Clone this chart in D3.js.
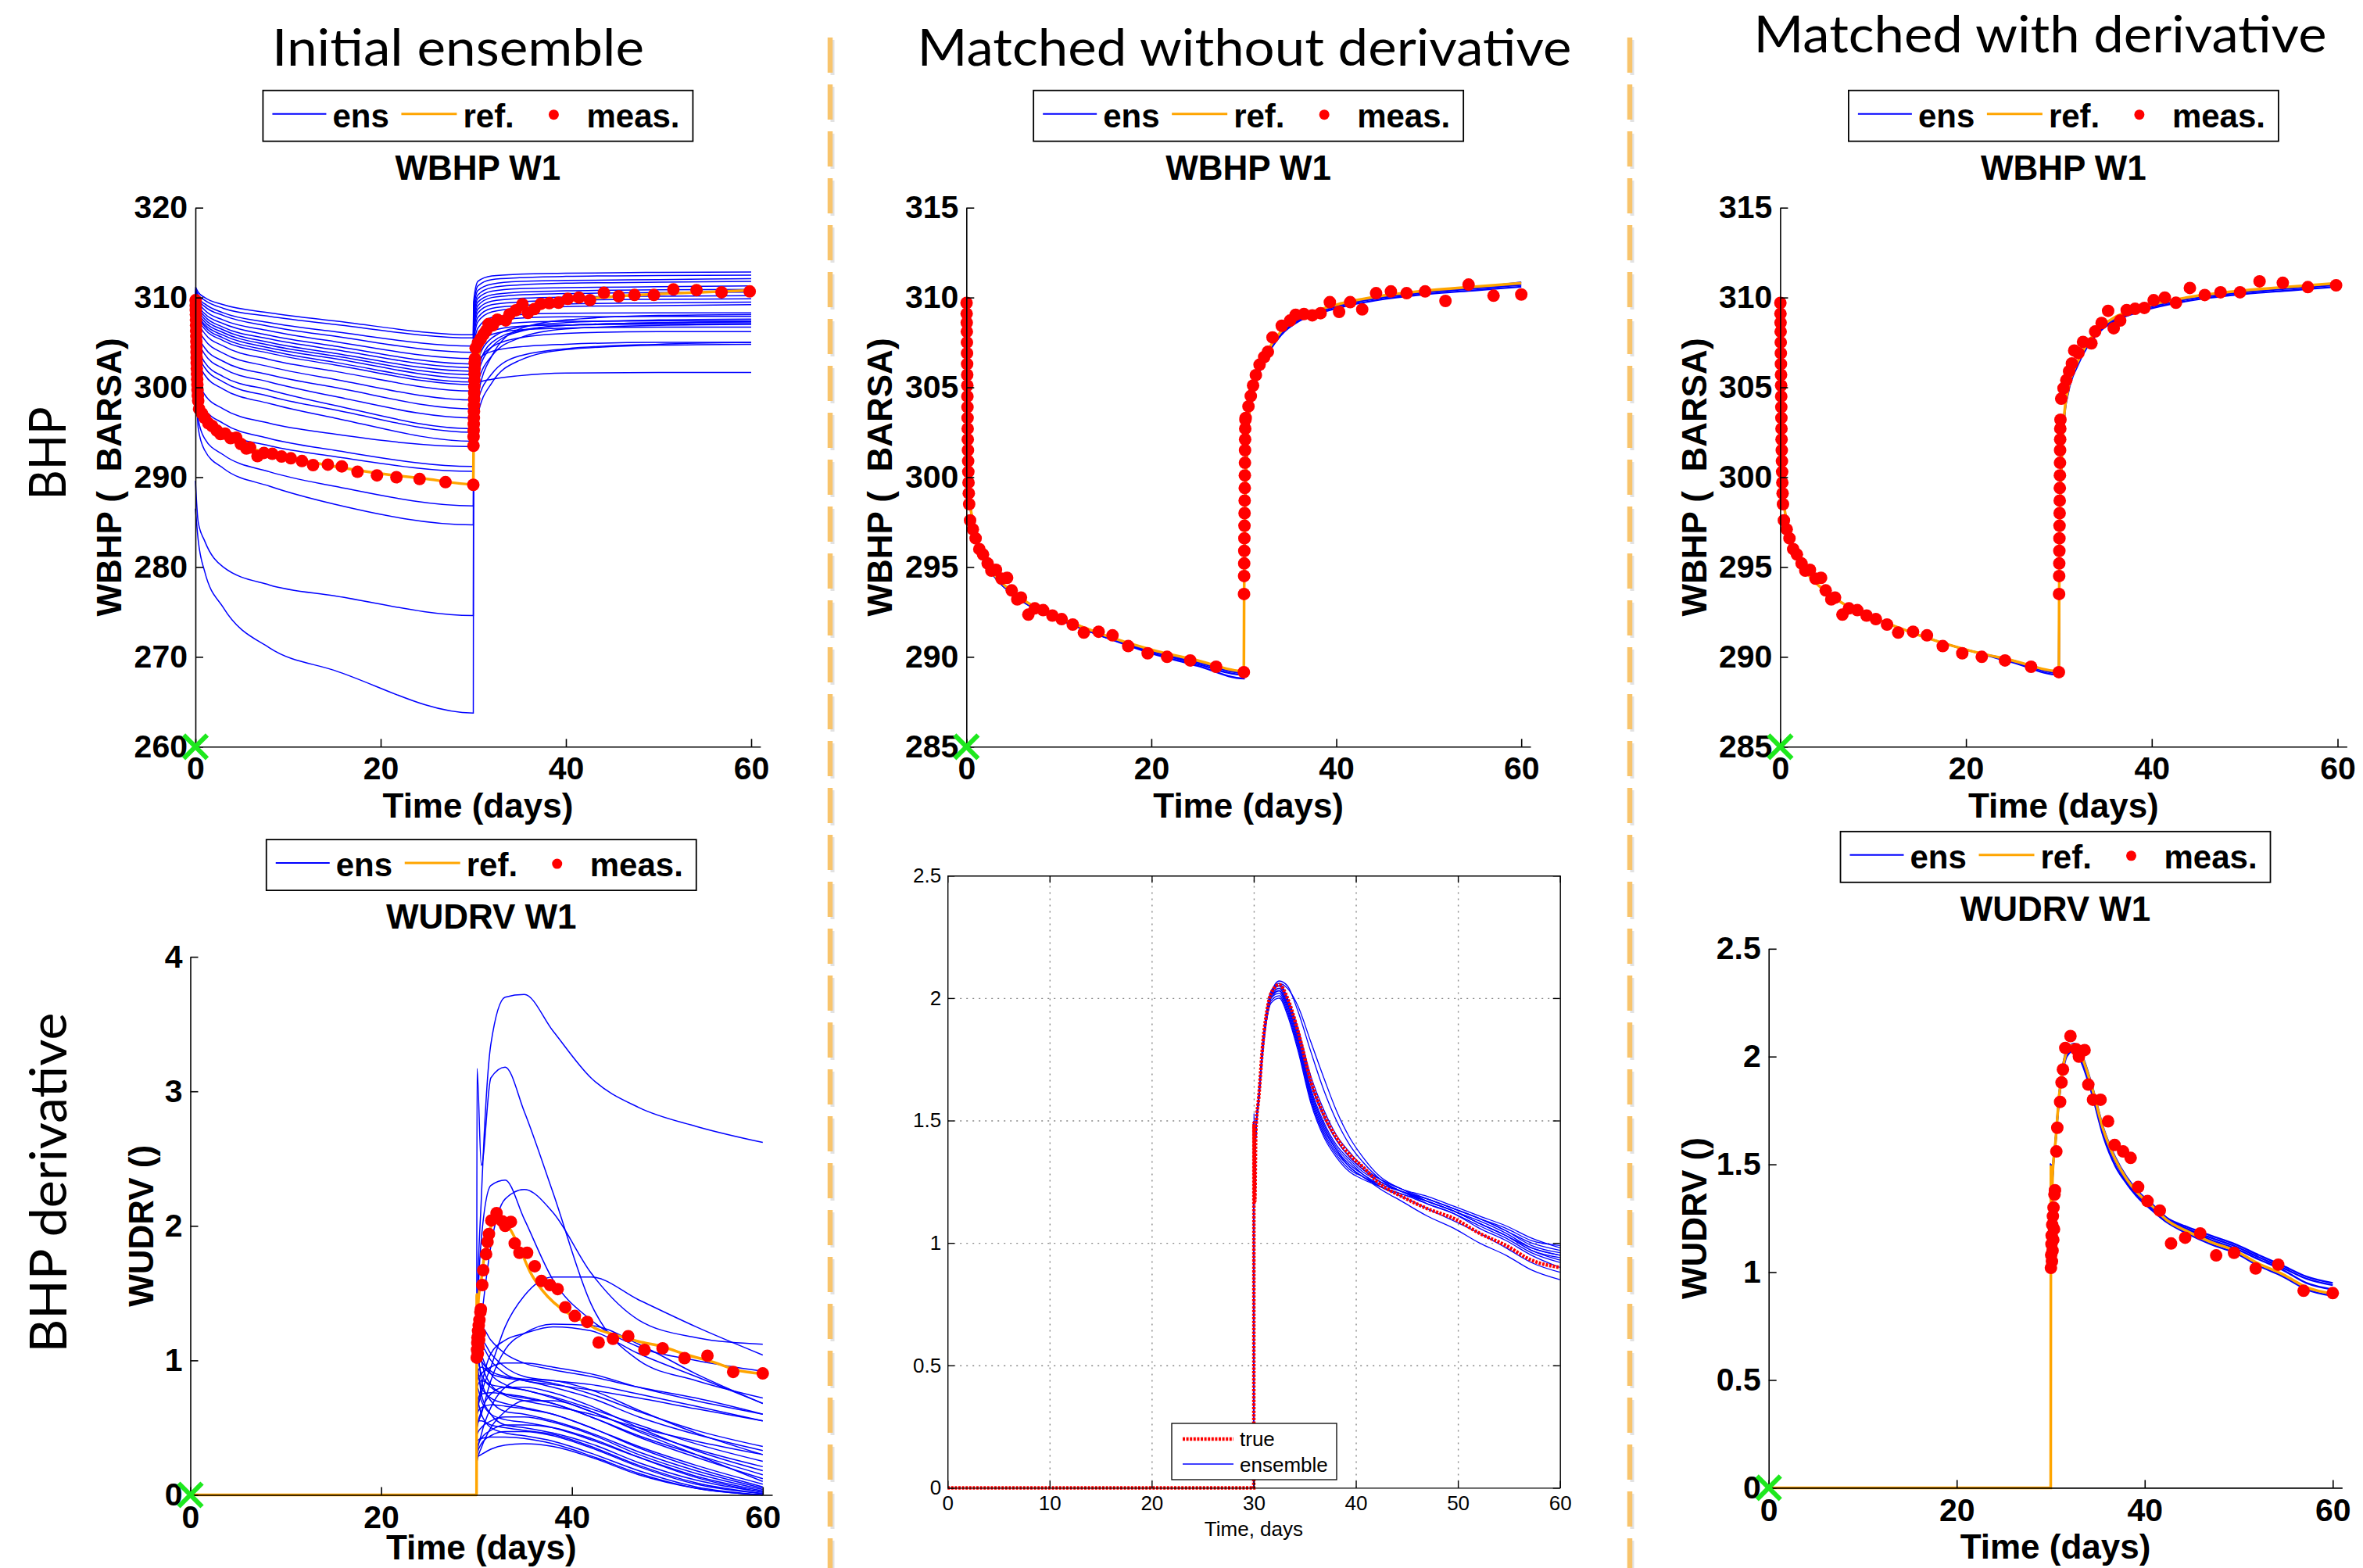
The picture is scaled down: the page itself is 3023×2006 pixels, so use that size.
<!DOCTYPE html>
<html>
<head>
<meta charset="utf-8">
<script src="https://cdn.jsdelivr.net/npm/d3@7"></script>
<style>
  body { margin: 0; background: #fff; }
  svg { display: block; }
</style>
</head>
<body>
<script>
// ---------- WBHP data ----------
const refBhpT = [0, 0.05, 0.15, 0.3, 0.6, 1, 2, 3, 5, 7, 10, 15, 20, 25, 30, 30.03, 30.1, 30.3, 30.6, 31, 32, 33, 34, 36, 38, 40, 45, 50, 55, 60];
const refBhp = [310, 306, 302, 299.2, 297.8, 296.8, 295.4, 294.6, 293.6, 292.9, 292.2, 291.2, 290.4, 289.8, 289.2, 293.5, 297.5, 301, 303.6, 304.9, 306.4, 307.4, 308.1, 308.9, 309.3, 309.6, 310.1, 310.4, 310.6, 310.8];

// initial ensemble, sampled at memberBhpT
const memberBhpT = [0, 0.3, 1, 3, 8, 15, 30, 30.03, 30.5, 32, 35, 40, 50, 60];
const initBhp = [
  [311.2, 310.6, 310.0, 309.2, 308.3, 307.4, 305.85, 309.5, 311.8, 312.4, 312.6, 312.7, 312.8, 312.85],
  [311.0, 310.3, 309.7, 308.8, 307.9, 307.0, 305.5, 309.0, 311.3, 312.0, 312.2, 312.35, 312.45, 312.5],
  [311.0, 310.0, 309.3, 308.3, 307.2, 306.2, 304.6, 308.5, 310.8, 311.5, 311.8, 311.9, 312.0, 312.1],
  [310.8, 309.8, 309.0, 308.0, 306.8, 305.7, 303.9, 308.0, 310.3, 311.1, 311.4, 311.6, 311.7, 311.8],
  [310.8, 309.5, 308.6, 307.5, 306.3, 305.1, 303.2, 307.6, 309.9, 310.7, 311.0, 311.1, 311.2, 311.3],
  [310.6, 309.2, 308.2, 307.1, 305.8, 304.6, 302.6, 307.2, 309.5, 310.3, 310.6, 310.75, 310.85, 310.9],
  [310.6, 309.0, 307.9, 306.7, 305.4, 304.2, 302.2, 306.8, 309.1, 310.0, 310.3, 310.45, 310.55, 310.6],
  [310.5, 308.8, 307.6, 306.4, 305.0, 303.8, 301.8, 306.3, 308.7, 309.6, 309.9, 310.05, 310.15, 310.2],
  [310.4, 308.5, 307.3, 306.1, 304.7, 303.5, 301.4, 305.8, 308.3, 309.2, 309.5, 309.7, 309.8, 309.85],
  [310.4, 308.2, 307.0, 305.8, 304.4, 303.2, 301.0, 305.3, 307.8, 308.8, 309.1, 309.3, 309.4, 309.5],
  [310.3, 308.0, 306.8, 305.5, 304.1, 302.8, 300.6, 304.8, 307.3, 308.4, 308.8, 309.0, 309.1, 309.2],
  [310.2, 307.8, 306.5, 305.2, 303.8, 302.5, 300.3, 304.2, 306.6, 307.8, 308.1, 308.25, 308.3, 308.3],
  [310.0, 307.4, 306.0, 304.6, 303.1, 301.8, 299.6, 303.6, 306.0, 307.3, 307.7, 307.85, 307.9, 307.9],
  [309.8, 306.8, 305.3, 303.8, 302.3, 300.9, 298.6, 303.0, 305.4, 306.8, 307.2, 307.35, 307.4, 307.4],
  [309.6, 306.0, 304.4, 302.9, 301.4, 300.0, 297.6, 302.4, 304.8, 306.3, 306.8, 306.95, 307.05, 307.1],
  [309.4, 305.4, 303.7, 302.1, 300.6, 299.0, 296.6, 302.0, 304.4, 305.9, 306.4, 306.6, 306.7, 306.7],
  [309.0, 304.6, 302.8, 301.2, 299.7, 298.0, 295.4, 301.0, 303.0, 304.0, 304.5, 304.8, 305.0, 305.0],
  [308.6, 304.0, 302.2, 300.6, 299.0, 297.5, 295.0, 299.5, 300.5, 300.9, 301.3, 301.6, 301.65, 301.65],
  [308.2, 303.2, 301.4, 299.8, 298.2, 296.6, 294.0, 299.5, 302.5, 304.5, 305.5, 306.0, 306.2, 306.2],
  [307.5, 301.0, 299.2, 297.6, 296.0, 294.8, 293.4, 298.5, 303.0, 305.5, 306.7, 307.2, 307.5, 307.6],
  [306.5, 299.5, 297.6, 296.0, 294.3, 293.0, 291.2, 297.0, 302.0, 305.0, 306.3, 306.9, 307.2, 307.3],
  [305.5, 298.5, 296.6, 295.0, 293.5, 292.3, 290.65, 296.0, 300.5, 303.5, 305.5, 306.5, 306.9, 307.0],
  [304.0, 296.5, 294.3, 292.5, 290.6, 289.0, 286.8, 296.5, 301.5, 304.5, 306.2, 306.9, 307.2, 307.3],
  [303.0, 295.5, 293.0, 291.0, 289.0, 287.0, 284.7, 296.0, 298.5, 301.5, 303.5, 304.3, 304.8, 305.0],
  [289.6, 285.0, 282.9, 280.0, 278.0, 276.8, 274.6, 294.0, 297.0, 300.5, 303.0, 304.2, 304.7, 304.8],
  [286.5, 283.0, 279.5, 275.5, 271.0, 268.5, 263.75, 293.5, 299.0, 303.5, 306.5, 307.5, 308.0, 308.1]
];

// matched ensembles, sampled at refBhpT
const noDerivBhp = [
  [310, 306, 302, 299.2, 297.8, 296.8, 295.4, 294.5, 293.5, 292.8, 292.1, 291.1, 290.2, 289.5, 288.8, 293.4, 297.3, 300.8, 303.4, 304.7, 306.2, 307.2, 307.9, 308.7, 309.1, 309.4, 309.9, 310.2, 310.4, 310.6],
  [310, 306, 302, 299.1, 297.7, 296.7, 295.3, 294.5, 293.5, 292.8, 292.1, 291.1, 290.3, 289.6, 289.0, 293.4, 297.4, 300.9, 303.5, 304.8, 306.3, 307.3, 308.0, 308.8, 309.2, 309.5, 310.0, 310.3, 310.5, 310.7],
  [310, 306, 302, 299.2, 297.8, 296.8, 295.4, 294.6, 293.6, 292.9, 292.2, 291.2, 290.3, 289.7, 289.1, 293.5, 297.4, 300.9, 303.5, 304.8, 306.3, 307.3, 308.0, 308.85, 309.25, 309.55, 310.05, 310.35, 310.55, 310.85]
];
const withDerivBhp = [
  [310, 306, 302, 299.2, 297.8, 296.8, 295.4, 294.6, 293.6, 292.9, 292.2, 291.2, 290.4, 289.7, 289.0, 293.4, 297.3, 300.8, 303.4, 304.7, 306.2, 307.2, 307.9, 308.7, 309.1, 309.4, 309.9, 310.2, 310.4, 310.6],
  [310, 306, 302, 299.2, 297.8, 296.8, 295.4, 294.6, 293.6, 292.9, 292.2, 291.2, 290.4, 289.8, 289.1, 293.5, 297.4, 300.9, 303.5, 304.8, 306.3, 307.3, 308.0, 308.8, 309.2, 309.5, 310.0, 310.3, 310.5, 310.7]
];

// measurements
const measBhpEarlyT = [0.02, 0.03, 0.04, 0.05, 0.06, 0.07, 0.08, 0.09, 0.1, 0.11, 0.12, 0.13, 0.14, 0.15, 0.17, 0.19, 0.21, 0.23, 0.26, 0.3,
  0.4, 0.7, 1.0, 1.4, 1.8, 2.3, 2.7, 3.2, 3.8, 4.4, 4.9, 5.5, 5.9, 6.7, 7.4, 8.3, 9.3, 10.3, 11.5, 12.7, 14.3, 15.8, 17.5, 19.6, 21.7, 24.2, 27.0, 30.0,
  30.02, 30.03, 30.04, 30.05, 30.06, 30.07, 30.08, 30.09, 30.1, 30.11, 30.12, 30.13, 30.14, 30.15, 30.17];
const measBhpEarly = [309.7, 309.1, 308.6, 308.1, 307.5, 306.9, 306.3, 305.7, 305.1, 304.5, 303.9, 303.3, 302.7, 302.1, 301.5, 300.9, 300.3, 299.7, 299.1, 298.5,
  297.6, 297.1, 296.6, 296.0, 295.7, 295.2, 294.8, 294.85, 294.35, 294.4, 293.7, 293.2, 293.3, 292.35, 292.7, 292.6, 292.3, 292.1, 291.8, 291.35, 291.4, 291.2, 290.6, 290.2, 290.0, 289.8, 289.45, 289.15,
  293.5, 294.5, 295.2, 295.9, 296.6, 297.3, 298.0, 298.7, 299.4, 300.1, 300.8, 301.5, 302.1, 302.7, 303.2];
const measBhpLateAT = [30.25, 30.5, 30.8, 31.1, 31.4, 31.65, 32.1, 32.6, 33.5, 33.9, 34.6, 35.3, 35.9, 36.6, 37.3, 38.2, 39.2, 40.2, 41.4, 42.6, 44.1, 45.7, 47.4, 49.5, 51.6, 54.1, 56.8, 59.84];
const measBhpLateA = [304.37, 304.95, 305.4, 305.9, 306.33, 307.05, 306.91, 307.53, 307.45, 308.11, 308.58, 309.26, 308.29, 308.72, 309.3, 309.37, 309.42, 309.85, 310.0, 309.71, 310.53, 310.14, 310.29, 310.29, 310.9, 310.82, 310.58, 310.68];
const measBhpLateBT = [30.2, 30.5, 30.75, 31.0, 31.3, 31.7, 32.2, 32.6, 33.1, 34.1, 35.0, 35.6, 36.5, 37.4, 38.3, 39.3, 40.3, 41.5, 42.8, 44.3, 45.9, 47.6, 49.6, 51.8, 54.3, 57.0, 60.0];
const measBhpLateB = [303.3, 303.94, 304.52, 305.1, 305.68, 306.26, 306.69, 306.98, 307.78, 308.43, 308.72, 309.04, 309.08, 309.01, 309.13, 309.74, 309.2, 309.74, 309.34, 310.24, 310.34, 310.24, 310.34, 309.81, 310.72, 310.1, 310.17];

// ---------- WUDRV data ----------
const refDrvT = [0, 30, 30.02, 30.1, 30.2, 30.5, 30.9, 31.3, 31.7, 32.5, 33.3, 34.3, 35.6, 36.9, 38.1, 39.4, 40.7, 42.4, 44.5, 47, 49.6, 52.1, 54.7, 57.2, 60];
const refDrv = [0, 0, 1.49, 1.17, 1.45, 1.6, 1.82, 1.95, 2.02, 2.055, 2.0, 1.87, 1.66, 1.52, 1.43, 1.36, 1.31, 1.24, 1.19, 1.14, 1.10, 1.04, 0.99, 0.93, 0.90];

const memberDrvT = [0, 30, 30.05, 30.5, 31.5, 33, 35, 38, 42, 47, 53, 60];
const initDrv = [
  [0, 0, 1.3, 2.2, 3.35, 3.70, 3.72, 3.45, 3.1, 2.88, 2.74, 2.62],
  [0, 0, 3.17, 2.45, 3.1, 3.18, 2.85, 2.25, 1.42, 1.0, 0.85, 0.72],
  [0, 0, 1.2, 1.9, 2.3, 2.34, 2.05, 1.6, 1.3, 1.1, 1.0, 0.92],
  [0, 0, 1.0, 1.3, 1.85, 2.2, 2.27, 2.1, 1.65, 1.3, 1.17, 1.12],
  [0, 0, 0.6, 0.75, 0.95, 1.25, 1.48, 1.62, 1.62, 1.45, 1.25, 1.04],
  [0, 0, 0.5, 0.6, 0.85, 1.08, 1.2, 1.27, 1.26, 1.12, 0.9, 0.68],
  [0, 0, 1.2, 1.25, 1.15, 1.05, 0.98, 0.93, 0.88, 0.8, 0.72, 0.6],
  [0, 0, 1.05, 1.15, 1.05, 0.95, 0.88, 0.85, 0.82, 0.75, 0.66, 0.55],
  [0, 0, 1.1, 1.0, 0.92, 0.88, 0.86, 0.83, 0.75, 0.62, 0.48, 0.36],
  [0, 0, 0.9, 0.95, 0.9, 0.87, 0.85, 0.8, 0.72, 0.58, 0.45, 0.33],
  [0, 0, 0.3, 0.45, 0.65, 0.8, 0.86, 0.85, 0.78, 0.63, 0.46, 0.30],
  [0, 0, 1.2, 1.05, 0.9, 0.82, 0.78, 0.73, 0.64, 0.52, 0.38, 0.25],
  [0, 0, 0.8, 0.85, 0.82, 0.8, 0.78, 0.72, 0.62, 0.48, 0.34, 0.21],
  [0, 0, 0.5, 0.62, 0.75, 0.8, 0.8, 0.76, 0.66, 0.5, 0.33, 0.18],
  [0, 0, 1.0, 0.9, 0.8, 0.75, 0.72, 0.68, 0.58, 0.44, 0.3, 0.15],
  [0, 0, 0.7, 0.75, 0.76, 0.75, 0.73, 0.68, 0.58, 0.43, 0.28, 0.12],
  [0, 0, 0.25, 0.35, 0.5, 0.62, 0.7, 0.7, 0.62, 0.47, 0.3, 0.1],
  [0, 0, 0.9, 0.8, 0.72, 0.68, 0.65, 0.6, 0.5, 0.36, 0.22, 0.08],
  [0, 0, 0.6, 0.65, 0.67, 0.66, 0.64, 0.6, 0.5, 0.35, 0.2, 0.06],
  [0, 0, 1.1, 0.85, 0.7, 0.62, 0.6, 0.55, 0.46, 0.32, 0.18, 0.05],
  [0, 0, 0.45, 0.5, 0.55, 0.58, 0.58, 0.54, 0.45, 0.3, 0.16, 0.04],
  [0, 0, 0.8, 0.7, 0.6, 0.56, 0.54, 0.5, 0.41, 0.28, 0.14, 0.03],
  [0, 0, 0.35, 0.42, 0.48, 0.52, 0.52, 0.5, 0.42, 0.28, 0.13, 0.02],
  [0, 0, 0.95, 0.75, 0.6, 0.52, 0.5, 0.46, 0.38, 0.24, 0.11, 0.02],
  [0, 0, 0.55, 0.55, 0.52, 0.5, 0.48, 0.45, 0.36, 0.22, 0.09, 0.01],
  [0, 0, 0.3, 0.38, 0.44, 0.47, 0.47, 0.44, 0.35, 0.21, 0.08, 0.01],
  [0, 0, 0.7, 0.6, 0.5, 0.46, 0.44, 0.4, 0.31, 0.18, 0.06, 0.0],
  [0, 0, 0.4, 0.42, 0.43, 0.43, 0.42, 0.38, 0.29, 0.16, 0.05, 0.0],
  [0, 0, 1.25, 1.0, 0.82, 0.74, 0.7, 0.66, 0.6, 0.5, 0.4, 0.3],
  [0, 0, 0.28, 0.3, 0.34, 0.37, 0.38, 0.36, 0.28, 0.15, 0.05, 0.0],
  [0, 0, 1.15, 1.12, 1.0, 0.9, 0.85, 0.82, 0.78, 0.72, 0.64, 0.55],
  [0, 0, 0.85, 0.9, 0.95, 0.98, 0.98, 0.95, 0.9, 0.8, 0.7, 0.6],
  [0, 0, 0.6, 0.8, 1.05, 1.15, 1.2, 1.25, 1.22, 1.05, 0.88, 0.68]
];

// matched ensembles sampled at refDrvT
const noDerivDrv = [
  [0, 0, 1.53, 1.2, 1.45, 1.6, 1.8, 1.93, 2.0, 2.03, 1.96, 1.82, 1.6, 1.46, 1.38, 1.32, 1.28, 1.24, 1.21, 1.17, 1.13, 1.08, 1.03, 0.97, 0.93],
  [0, 0, 1.5, 1.18, 1.44, 1.59, 1.8, 1.92, 1.99, 2.01, 1.94, 1.8, 1.58, 1.44, 1.36, 1.30, 1.27, 1.23, 1.2, 1.16, 1.12, 1.06, 1.01, 0.95, 0.9],
  [0, 0, 1.5, 1.19, 1.45, 1.6, 1.81, 1.94, 2.01, 2.04, 1.98, 1.85, 1.63, 1.49, 1.4, 1.34, 1.29, 1.25, 1.21, 1.18, 1.14, 1.1, 1.05, 1.0, 0.97],
  [0, 0, 1.5, 1.18, 1.45, 1.6, 1.8, 1.93, 2.02, 2.07, 2.05, 1.95, 1.78, 1.62, 1.5, 1.4, 1.33, 1.26, 1.21, 1.17, 1.13, 1.08, 1.03, 0.98, 0.95],
  [0, 0, 1.48, 1.16, 1.44, 1.58, 1.78, 1.92, 2.01, 2.06, 2.04, 1.97, 1.82, 1.67, 1.54, 1.43, 1.35, 1.27, 1.22, 1.17, 1.13, 1.08, 1.03, 0.97, 0.94],
  [0, 0, 1.49, 1.17, 1.45, 1.6, 1.81, 1.94, 2.01, 2.03, 1.97, 1.83, 1.61, 1.47, 1.38, 1.31, 1.27, 1.22, 1.17, 1.11, 1.06, 1.0, 0.95, 0.89, 0.85],
  [0, 0, 1.49, 1.17, 1.45, 1.6, 1.82, 1.95, 2.02, 2.05, 1.99, 1.86, 1.65, 1.51, 1.42, 1.35, 1.3, 1.25, 1.21, 1.16, 1.12, 1.07, 1.02, 0.96, 0.92],
  [0, 0, 1.5, 1.18, 1.46, 1.61, 1.83, 1.96, 2.03, 2.06, 2.0, 1.87, 1.66, 1.52, 1.42, 1.35, 1.3, 1.26, 1.22, 1.18, 1.14, 1.1, 1.06, 1.01, 0.99],
  [0, 0, 1.48, 1.16, 1.44, 1.59, 1.8, 1.92, 1.98, 2.0, 1.93, 1.79, 1.57, 1.43, 1.35, 1.29, 1.26, 1.23, 1.2, 1.17, 1.13, 1.09, 1.04, 0.98, 0.95],
  [0, 0, 1.49, 1.17, 1.45, 1.6, 1.81, 1.94, 2.01, 2.04, 1.98, 1.84, 1.62, 1.48, 1.39, 1.33, 1.28, 1.23, 1.19, 1.14, 1.09, 1.04, 0.98, 0.92, 0.88],
  [0, 0, 1.5, 1.18, 1.45, 1.6, 1.82, 1.95, 2.02, 2.05, 2.0, 1.88, 1.68, 1.54, 1.44, 1.37, 1.31, 1.26, 1.22, 1.19, 1.15, 1.11, 1.07, 1.02, 0.98],
  [0, 0, 1.49, 1.17, 1.44, 1.59, 1.8, 1.93, 2.0, 2.02, 1.95, 1.81, 1.59, 1.45, 1.37, 1.31, 1.27, 1.24, 1.21, 1.18, 1.14, 1.1, 1.05, 0.99, 0.96]
];
const withDerivDrv = [
  [0, 0, 1.5, 1.18, 1.45, 1.6, 1.81, 1.94, 2.01, 2.04, 1.99, 1.86, 1.65, 1.51, 1.42, 1.35, 1.3, 1.24, 1.2, 1.16, 1.12, 1.07, 1.02, 0.97, 0.94],
  [0, 0, 1.48, 1.16, 1.44, 1.59, 1.8, 1.93, 2.0, 2.03, 1.97, 1.84, 1.63, 1.49, 1.41, 1.34, 1.29, 1.23, 1.18, 1.13, 1.09, 1.03, 0.98, 0.92, 0.89],
  [0, 0, 1.5, 1.18, 1.46, 1.61, 1.83, 1.96, 2.03, 2.06, 2.01, 1.88, 1.67, 1.53, 1.44, 1.37, 1.32, 1.25, 1.2, 1.15, 1.11, 1.06, 1.01, 0.95, 0.92],
  [0, 0, 1.49, 1.17, 1.45, 1.6, 1.82, 1.95, 2.02, 2.05, 2.0, 1.87, 1.66, 1.52, 1.43, 1.36, 1.31, 1.25, 1.21, 1.17, 1.13, 1.08, 1.03, 0.98, 0.95]
];

const measDrvT = [30.02, 30.05, 30.08, 30.1, 30.13, 30.16, 30.2, 30.23, 30.27, 30.3, 30.35, 30.4, 30.45, 30.6, 30.7, 31.0, 31.15, 31.3, 31.55, 32.1,
  32.7, 33.0, 33.6, 34.0, 34.5, 35.3, 36.1, 36.8, 37.7, 38.5, 39.3, 40.3, 41.6, 42.8, 44.3, 45.9, 47.6, 49.5, 51.8, 54.2, 56.9, 60.0];
const measDrv = [1.02, 1.08, 1.13, 1.17, 1.05, 1.22, 1.1, 1.26, 1.15, 1.3, 1.2, 1.36, 1.38, 1.56, 1.67, 1.79, 1.88, 1.94, 2.04, 2.095,
  2.034, 2.0, 2.03, 1.87, 1.8, 1.80, 1.70, 1.59, 1.56, 1.53, 1.395, 1.33, 1.286, 1.133, 1.16, 1.18, 1.078, 1.09, 1.017, 1.035, 0.914, 0.903];

const bhpTicksA = [260, 270, 280, 290, 300, 310, 320];
const bhpTicksB = [285, 290, 295, 300, 305, 310, 315];
const drvTicksA = [0, 1, 2, 3, 4];
const drvTicksB = [0, 0.5, 1, 1.5, 2, 2.5];
const timeTicks = [0, 20, 40, 60];
const gridTimeTicks = [0, 10, 20, 30, 40, 50, 60];
const zip = (ts, vs) => ts.map((t, i) => [t, vs[i]]);

const W = 3023, H = 2006;
const MFONT = 'Liberation Sans, Arial, Helvetica, sans-serif';
const TFONT = 'Lato, Carlito, Calibri, sans-serif';
const BLUE = '#0000ff', ORANGE = '#ffa500', RED = '#ff0000';

const svg = d3.select('body').append('svg')
  .attr('width', W).attr('height', H)
  .attr('viewBox', `0 0 ${W} ${H}`);
svg.append('rect').attr('width', W).attr('height', H).attr('fill', '#fff');

// separators
[1062, 2085].forEach(sx => {
  svg.append('line').attr('x1', sx + 3).attr('x2', sx + 3).attr('y1', 51).attr('y2', H)
    .attr('stroke', '#e2e2e2').attr('stroke-width', 5).attr('stroke-dasharray', '45,15');
  svg.append('line').attr('x1', sx).attr('x2', sx).attr('y1', 48).attr('y2', H)
    .attr('stroke', '#f8c46c').attr('stroke-width', 6.5).attr('stroke-dasharray', '45,15');
});

// column titles and row labels
const bigText = (x, y, txt, len, rot) => {
  const t = svg.append('text')
    .attr('transform', `translate(${x},${y})` + (rot ? ' rotate(-90)' : ''))
    .attr('text-anchor', 'middle').attr('font-family', TFONT).attr('font-size', 66)
    .attr('textLength', len).attr('lengthAdjust', 'spacingAndGlyphs')
    .attr('fill', '#000').text(txt);
  return t;
};
bigText(586, 84, 'Initial ensemble', 476);
bigText(1592, 84, 'Matched without derivative', 837);
bigText(2610, 67, 'Matched with derivative', 733);
bigText(84, 580, 'BHP', 119, true);
bigText(85, 1513, 'BHP derivative', 435, true);

function legend(cx, top) {
  const L = cx - 275;
  const g = svg.append('g').attr('font-family', MFONT).attr('font-weight', 'bold').attr('font-size', 42);
  g.append('rect').attr('x', L).attr('y', top).attr('width', 550).attr('height', 65)
    .attr('fill', '#fff').attr('stroke', '#000').attr('stroke-width', 1.8);
  g.append('line').attr('x1', L + 12).attr('x2', L + 81).attr('y1', top + 30).attr('y2', top + 30)
    .attr('stroke', BLUE).attr('stroke-width', 2);
  g.append('text').attr('x', L + 89).attr('y', top + 47).text('ens');
  g.append('line').attr('x1', L + 177).attr('x2', L + 248).attr('y1', top + 30).attr('y2', top + 30)
    .attr('stroke', ORANGE).attr('stroke-width', 3);
  g.append('text').attr('x', L + 256).attr('y', top + 47).text('ref.');
  g.append('circle').attr('cx', L + 372).attr('cy', top + 31).attr('r', 6.5).attr('fill', RED);
  g.append('text').attr('x', L + 414).attr('y', top + 47).text('meas.');
}

function drawPanel(p) {
  const x = d3.scaleLinear().domain([0, 61]).range([p.x0, p.x0 + (p.x60 - p.x0) * 61 / 60]);
  const y = d3.scaleLinear().domain(p.yDomain).range([p.yBottom, p.yTop]);
  const line = d3.line().x(d => x(d[0])).y(d => y(d[1])).curve(d3.curveMonotoneX);
  const g = svg.append('g');
  const cx = x(30.5);

  p.ens.forEach(vals => {
    g.append('path').attr('d', line(zip(p.ensT, vals)))
      .attr('fill', 'none').attr('stroke', BLUE).attr('stroke-width', p.ensWidth);
  });
  g.append('path').attr('d', line(zip(p.refT, p.ref)))
    .attr('fill', 'none').attr('stroke', ORANGE).attr('stroke-width', 3.5);
  g.selectAll('circle.meas').data(p.meas).join('circle')
    .attr('class', 'meas')
    .attr('cx', d => x(d[0])).attr('cy', d => y(d[1])).attr('r', 8).attr('fill', RED);

  const styleAxis = a => {
    a.attr('font-family', MFONT).attr('font-weight', 'bold').attr('font-size', 41);
    a.select('.domain').attr('stroke', '#000').attr('stroke-width', 1.6);
    a.selectAll('.tick line').attr('stroke', '#000').attr('stroke-width', 1.6);
    a.selectAll('.tick text').attr('fill', '#000');
  };
  g.append('g').attr('transform', `translate(0,${p.yBottom})`)
    .call(d3.axisBottom(x).tickValues(timeTicks).tickSizeInner(-10).tickSizeOuter(0).tickPadding(13))
    .call(styleAxis);
  g.append('g').attr('transform', `translate(${p.x0},0)`)
    .call(d3.axisLeft(y).tickValues(p.yTicks).tickSizeInner(-10).tickSizeOuter(0).tickPadding(10).tickFormat(d => String(d)))
    .call(styleAxis);

  const lab = g.append('g').attr('font-family', MFONT).attr('font-weight', 'bold').attr('font-size', 44).attr('fill', '#000');
  lab.append('text').attr('x', cx).attr('y', p.yTop - 36).attr('text-anchor', 'middle').text(p.title);
  lab.append('text').attr('x', cx).attr('y', Math.min(p.yBottom + 91, H - 11)).attr('text-anchor', 'middle').text('Time (days)');
  lab.append('text').attr('transform', `translate(${p.ylabX},${(p.yTop + p.yBottom) / 2}) rotate(-90)`)
    .attr('text-anchor', 'middle').style('white-space', 'pre').text(p.ylabel);

  // green cross at the origin
  const ox = x(0), oy = y(p.yDomain[0]);
  g.append('path').attr('d', `M${ox - 15},${oy - 15}L${ox + 15},${oy + 15}M${ox - 15},${oy + 15}L${ox + 15},${oy - 15}`)
    .attr('stroke', '#1ee81e').attr('stroke-width', 6).attr('fill', 'none');

  legend(cx, p.yTop - 150);
}

const measA = zip(measBhpEarlyT, measBhpEarly).concat(zip(measBhpLateAT, measBhpLateA));
const measB = zip(measBhpEarlyT, measBhpEarly).concat(zip(measBhpLateBT, measBhpLateB));
const measD = zip(measDrvT, measDrv);

drawPanel({ x0: 250, x60: 961, yTop: 265.7, yBottom: 955.3, yDomain: [260, 320], yTicks: bhpTicksA,
  ensT: memberBhpT, ens: initBhp, ensWidth: 1.5, refT: refBhpT, ref: refBhp, meas: measA,
  title: 'WBHP W1', ylabel: 'WBHP (  BARSA)', ylabX: 155 });
drawPanel({ x0: 1236.3, x60: 1946.2, yTop: 265.7, yBottom: 955.3, yDomain: [285, 315], yTicks: bhpTicksB,
  ensT: refBhpT, ens: noDerivBhp, ensWidth: 2.4, refT: refBhpT, ref: refBhp, meas: measB,
  title: 'WBHP W1', ylabel: 'WBHP (  BARSA)', ylabX: 1141 });
drawPanel({ x0: 2277.4, x60: 2990.5, yTop: 265.7, yBottom: 955.3, yDomain: [285, 315], yTicks: bhpTicksB,
  ensT: refBhpT, ens: withDerivBhp, ensWidth: 2.4, refT: refBhpT, ref: refBhp, meas: measA,
  title: 'WBHP W1', ylabel: 'WBHP (  BARSA)', ylabX: 2183 });
drawPanel({ x0: 243.5, x60: 975.8, yTop: 1224.1, yBottom: 1912.5, yDomain: [0, 4], yTicks: drvTicksA,
  ensT: memberDrvT, ens: initDrv, ensWidth: 1.5, refT: refDrvT, ref: refDrv, meas: measD,
  title: 'WUDRV W1', ylabel: 'WUDRV ()', ylabX: 196 });
drawPanel({ x0: 2262.7, x60: 2984.3, yTop: 1213.8, yBottom: 1903.4, yDomain: [0, 2.5], yTicks: drvTicksB,
  ensT: refDrvT, ens: withDerivDrv, ensWidth: 2.4, refT: refDrvT, ref: refDrv, meas: measD,
  title: 'WUDRV W1', ylabel: 'WUDRV ()', ylabX: 2183 });

// ---------- middle bottom panel (different plotting style) ----------
(function () {
  const x = d3.scaleLinear().domain([0, 60]).range([1212.2, 1995.7]);
  const y = d3.scaleLinear().domain([0, 2.5]).range([1903.4, 1120.3]);
  const w = x(60) - x(0), h = y(0) - y(2.5);
  const g = svg.append('g');
  const line = d3.line().x(d => x(d[0])).y(d => y(d[1])).curve(d3.curveMonotoneX);

  // dotted grid
  const grid = a => {
    a.select('.domain').remove();
    a.selectAll('.tick line').attr('stroke', '#888').attr('stroke-width', 1.4).attr('stroke-dasharray', '2,6');
  };
  g.append('g').attr('transform', `translate(0,${y(0)})`)
    .call(d3.axisBottom(x).tickValues(gridTimeTicks.slice(1, -1)).tickSize(-h).tickFormat('')).call(grid);
  g.append('g').attr('transform', `translate(${x(0)},0)`)
    .call(d3.axisLeft(y).tickValues(drvTicksB.slice(1, -1)).tickSize(-w).tickFormat('')).call(grid);

  noDerivDrv.forEach(vals => {
    g.append('path').attr('d', line(zip(refDrvT, vals).filter(d => d[0] >= 30)))
      .attr('fill', 'none').attr('stroke', BLUE).attr('stroke-width', 1.3);
  });
  g.append('path').attr('d', line(zip(refDrvT, refDrv)))
    .attr('fill', 'none').attr('stroke', RED).attr('stroke-width', 4.5).attr('stroke-dasharray', '3,1.6');

  const styleAxis = a => {
    a.attr('font-family', MFONT).attr('font-size', 26);
    a.select('.domain').attr('stroke', '#000').attr('stroke-width', 1.4);
    a.selectAll('.tick line').attr('stroke', '#000').attr('stroke-width', 1.4);
    a.selectAll('.tick text').attr('fill', '#000');
  };
  g.append('g').attr('transform', `translate(0,${y(0)})`)
    .call(d3.axisBottom(x).tickValues(gridTimeTicks).tickSizeInner(-9).tickSizeOuter(0).tickPadding(10)).call(styleAxis);
  g.append('g').attr('transform', `translate(0,${y(2.5)})`)
    .call(d3.axisTop(x).tickValues(gridTimeTicks).tickSizeInner(-9).tickSizeOuter(0).tickFormat('')).call(styleAxis);
  g.append('g').attr('transform', `translate(${x(0)},0)`)
    .call(d3.axisLeft(y).tickValues(drvTicksB).tickSizeInner(-9).tickSizeOuter(0).tickPadding(8).tickFormat(d => String(d))).call(styleAxis);
  g.append('g').attr('transform', `translate(${x(60)},0)`)
    .call(d3.axisRight(y).tickValues(drvTicksB).tickSizeInner(-9).tickSizeOuter(0).tickFormat('')).call(styleAxis);

  g.append('text').attr('x', (x(0) + x(60)) / 2).attr('y', y(0) + 62).attr('text-anchor', 'middle')
    .attr('font-family', MFONT).attr('font-size', 26).text('Time, days');

  // legend
  const lg = g.append('g').attr('font-family', MFONT).attr('font-size', 26);
  lg.append('rect').attr('x', 1499).attr('y', 1821).attr('width', 211).attr('height', 72)
    .attr('fill', '#fff').attr('stroke', '#000').attr('stroke-width', 1.3);
  lg.append('line').attr('x1', 1513).attr('x2', 1578).attr('y1', 1841).attr('y2', 1841)
    .attr('stroke', RED).attr('stroke-width', 4.5).attr('stroke-dasharray', '3,1.6');
  lg.append('text').attr('x', 1586).attr('y', 1850).text('true');
  lg.append('line').attr('x1', 1513).attr('x2', 1578).attr('y1', 1873).attr('y2', 1873)
    .attr('stroke', BLUE).attr('stroke-width', 1.3);
  lg.append('text').attr('x', 1586).attr('y', 1883).text('ensemble');
})();
</script>
</body>
</html>
